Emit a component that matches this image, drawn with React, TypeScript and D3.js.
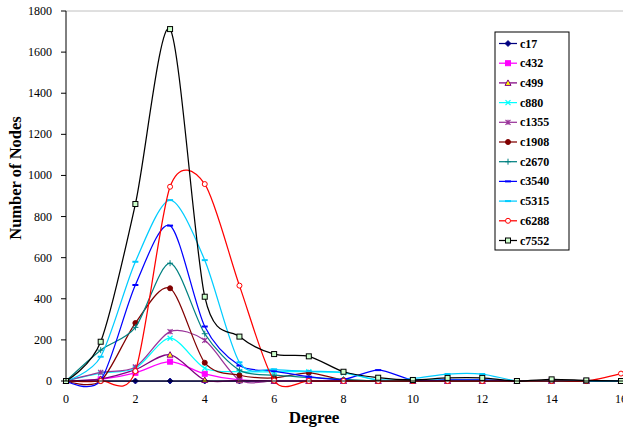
import React from 'react';
import * as d3 from 'd3';

// degree 0..16
const degrees = d3.range(0, 17);

const c17 = [0, 0, 0, 0, 0, 0, 0, 0, 0, 0, 0, 0, 0, 0, 0, 0, 0];
const c432 = [0, 8, 40, 94, 35, 5, 0, 0, 0, 0, 0, 0, 0, 0, 0, 0, 0];
const c499 = [0, 10, 55, 128, 5, 3, 0, 0, 0, 0, 0, 0, 0, 0, 0, 0, 0];
const c880 = [0, 38, 62, 208, 62, 45, 45, 45, 40, 5, 5, 5, 5, 0, 0, 0, 0];
const c1355 = [0, 42, 68, 240, 198, 5, 0, 0, 0, 0, 0, 0, 0, 0, 0, 0, 0];
const c1908 = [0, 0, 282, 451, 89, 28, 15, 40, 5, 0, 0, 0, 0, 0, 0, 0, 0];
const c2670 = [0, 150, 261, 573, 230, 53, 28, 18, 8, 0, 0, 0, 0, 0, 0, 0, 0];
const c3540 = [0, 3, 467, 756, 265, 75, 48, 21, 8, 53, 5, 5, 5, 0, 0, 0, 0];
const c5315 = [0, 118, 580, 880, 588, 91, 57, 48, 42, 5, 12, 34, 34, 0, 0, 0, 0];
const c6288 = [0, 0, 48, 945, 958, 464, 2, 0, 0, 0, 0, 0, 0, 0, 0, 0, 36];
const c7552 = [0, 191, 861, 1712, 410, 216, 131, 120, 45, 16, 5, 15, 15, 0, 8, 3, 0];

const seriesNames = ['c17', 'c432', 'c499', 'c880', 'c1355', 'c1908', 'c2670', 'c3540', 'c5315', 'c6288', 'c7552'];
const seriesValues = [c17, c432, c499, c880, c1355, c1908, c2670, c3540, c5315, c6288, c7552];

const xTicks = [0, 2, 4, 6, 8, 10, 12, 14, 16];
const yTicks = [0, 200, 400, 600, 800, 1000, 1200, 1400, 1600, 1800];

// line colour, marker kind, marker fill
const styles: { color: string; marker: string; fill: string }[] = [
  { color: '#000080', marker: 'diamond', fill: '#000080' },
  { color: '#FF00FF', marker: 'square', fill: '#FF00FF' },
  { color: '#800080', marker: 'triangle', fill: '#FFFF00' },
  { color: '#00FFFF', marker: 'x', fill: 'none' },
  { color: '#993399', marker: 'star', fill: 'none' },
  { color: '#800000', marker: 'circle', fill: '#800000' },
  { color: '#008080', marker: 'plus', fill: 'none' },
  { color: '#0000FF', marker: 'dash', fill: 'none' },
  { color: '#00CCFF', marker: 'dash', fill: 'none' },
  { color: '#FF0000', marker: 'circle', fill: '#FFFFFF' },
  { color: '#000000', marker: 'square', fill: '#CCFFCC' },
];

const W = 623;
const H = 427;
const font = '"Liberation Serif", "Times New Roman", serif';

const Marker = ({ kind, x, y, color, fill }: { kind: string; x: number; y: number; color: string; fill: string }) => {
  const s = 2.5;
  switch (kind) {
    case 'diamond':
      return <path d={`M${x},${y - 3}L${x + 3},${y}L${x},${y + 3}L${x - 3},${y}Z`} fill={fill} stroke={color} strokeWidth={0.8} />;
    case 'square':
      return <rect x={x - s} y={y - s} width={2 * s} height={2 * s} fill={fill} stroke={color} strokeWidth={1} />;
    case 'triangle':
      return <path d={`M${x},${y - 3}L${x + 3},${y + 2.5}L${x - 3},${y + 2.5}Z`} fill={fill} stroke={color} strokeWidth={1} />;
    case 'circle':
      return <circle cx={x} cy={y} r={2.5} fill={fill} stroke={color} strokeWidth={1} />;
    case 'x':
      return <path d={`M${x - s},${y - s}L${x + s},${y + s}M${x - s},${y + s}L${x + s},${y - s}`} stroke={color} strokeWidth={1.2} fill="none" />;
    case 'star':
      return <path d={`M${x - s},${y - s}L${x + s},${y + s}M${x - s},${y + s}L${x + s},${y - s}M${x},${y - s}L${x},${y + s}`} stroke={color} strokeWidth={1.2} fill="none" />;
    case 'plus':
      return <path d={`M${x - 3},${y}L${x + 3},${y}M${x},${y - 3}L${x},${y + 3}`} stroke={color} strokeWidth={1} fill="none" />;
    case 'dash':
      return <path d={`M${x - 3},${y}L${x + 3},${y}`} stroke={color} strokeWidth={2} fill="none" />;
    default:
      return null;
  }
};

const App = () => {
  const x = d3.scaleLinear().domain([0, 16]).range([66, 621]);
  const y = d3.scaleLinear().domain([0, 1800]).range([381, 11]);

  // smoothed lines, a bit tighter than plain Catmull-Rom
  const line = d3
    .line<number>()
    .x((_, i) => x(degrees[i]))
    .y((d) => y(d))
    .curve(d3.curveCardinal.tension(0.15));

  // legend box
  const lgX = 495;
  const lgY = 32;
  const lgStep = 19.7;

  return (
    <svg width={W} height={H} style={{ position: 'absolute', left: 0, top: 0, background: '#fff' }} fontFamily={font}>
      {/* plot area top border */}
      <line x1={x(0)} x2={W} y1={y(1800)} y2={y(1800)} stroke="#C0C0C0" strokeWidth={1} />

      {/* series */}
      {seriesValues.map((vals, si) => (
        <g key={seriesNames[si]}>
          <path d={line(vals) || ''} fill="none" stroke={styles[si].color} strokeWidth={1.25} />
          {vals.map((v, i) => (
            <Marker key={i} kind={styles[si].marker} x={x(degrees[i])} y={y(v)} color={styles[si].color} fill={styles[si].fill} />
          ))}
        </g>
      ))}

      {/* axes */}
      <line x1={x(0)} x2={x(0)} y1={y(1800)} y2={y(0)} stroke="#000" strokeWidth={1} />
      <line x1={x(0)} x2={W} y1={y(0)} y2={y(0)} stroke="#000" strokeWidth={1} />
      {yTicks.map((t) => (
        <g key={t}>
          <line x1={x(0) - 5} x2={x(0)} y1={y(t)} y2={y(t)} stroke="#000" />
          <text x={52} y={y(t) + 4} textAnchor="end" fontSize={12}>
            {t}
          </text>
        </g>
      ))}
      {xTicks.map((t) => (
        <text key={t} x={x(t)} y={403} textAnchor="middle" fontSize={12}>
          {t}
        </text>
      ))}

      <text x={314} y={423} textAnchor="middle" fontSize={17} fontWeight="bold">
        Degree
      </text>
      <text transform="translate(21,178) rotate(-90)" textAnchor="middle" fontSize={16.5} fontWeight="bold">
        Number of Nodes
      </text>

      {/* legend */}
      <rect x={lgX} y={lgY} width={74} height={218} fill="#fff" stroke="#000" strokeWidth={1} />
      {seriesNames.map((name, si) => {
        const ly = lgY + 11.5 + si * lgStep;
        return (
          <g key={name}>
            <line x1={lgX + 4} x2={lgX + 22} y1={ly} y2={ly} stroke={styles[si].color} strokeWidth={1.25} />
            <Marker kind={styles[si].marker} x={lgX + 13} y={ly} color={styles[si].color} fill={styles[si].fill} />
            <text x={lgX + 25} y={ly + 4} fontSize={12} fontWeight="bold">
              {name}
            </text>
          </g>
        );
      })}
    </svg>
  );
};

export default App;
